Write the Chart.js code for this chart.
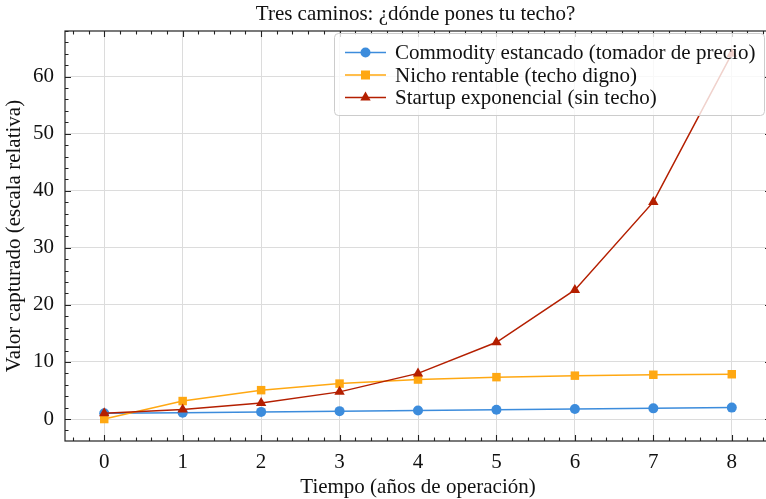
<!DOCTYPE html>
<html>
<head>
<meta charset="utf-8">
<script src="https://cdn.jsdelivr.net/npm/chart.js@4"></script>
<style>
  html, body { margin: 0; padding: 0; background: #fff; overflow: hidden; }
  #wrap { width: 777px; height: 499px; }
</style>
</head>
<body>
<div id="wrap"><canvas id="chart" width="777" height="499"></canvas></div>
<script>
// Data
const years = [0, 1, 2, 3, 4, 5, 6, 7, 8];
const commodity = [1.0, 1.12, 1.25, 1.38, 1.5, 1.62, 1.75, 1.87, 2.0];
const nicho = [0.0, 3.15, 5.06, 6.21, 6.92, 7.34, 7.6, 7.76, 7.85];
const startup = [1.0, 1.68, 2.83, 4.76, 8.0, 13.45, 22.63, 38.05, 64.0];
const xTicks = [0, 1, 2, 3, 4, 5, 6, 7, 8];
const yTicks = [0, 10, 20, 30, 40, 50, 60];

const seriesNames = [
    'Commodity estancado (tomador de precio)',
    'Nicho rentable (techo digno)',
    'Startup exponencial (sin techo)'
];
const chartTitle = 'Tres caminos: ¿dónde pones tu techo?';

const FONT = "'Liberation Serif', 'DejaVu Serif', serif";
const BLUE = '#3c8cdc';
const ORANGE = '#ffa812';
const RED = '#b41f00';

function toXY(values) {
    return values.map((v, i) => ({ x: years[i], y: v }));
}

// inward ticks on all four sides, frame, title and legend
const framePlugin = {
    id: 'frame',
    afterDatasetsDraw(chart) {
        const { ctx, chartArea: a, scales } = chart;
        const xs = scales.x, ys = scales.y;
        ctx.save();
        ctx.strokeStyle = '#222';
        ctx.lineWidth = 1.1;
        ctx.beginPath();
        // x ticks (major + minor every 0.2)
        for (let k = Math.ceil(xs.min * 5); k <= Math.floor(xs.max * 5); k++) {
            const v = k / 5;
            const len = (k % 5 === 0) ? 6 : 3.5;
            const px = Math.round(xs.getPixelForValue(v)) + 0.5;
            ctx.moveTo(px, a.bottom); ctx.lineTo(px, a.bottom - len);
            ctx.moveTo(px, a.top); ctx.lineTo(px, a.top + len);
        }
        // y ticks (major every 10, minor every 2)
        for (let k = Math.ceil(ys.min / 2); k <= Math.floor(ys.max / 2); k++) {
            const v = k * 2;
            const len = (v % 10 === 0) ? 6 : 3.5;
            const py = Math.round(ys.getPixelForValue(v)) + 0.5;
            ctx.moveTo(a.left, py); ctx.lineTo(a.left + len, py);
            ctx.moveTo(a.right, py); ctx.lineTo(a.right - len, py);
        }
        ctx.stroke();
        ctx.lineWidth = 1.2;
        ctx.strokeRect(a.left, a.top, a.right - a.left, a.bottom - a.top);

        // legend
        const lx = 334, ly = 33, lw = 430, lh = 82;
        ctx.beginPath();
        ctx.roundRect(lx + 0.5, ly + 0.5, lw, lh, 4);
        ctx.fillStyle = 'rgba(255,255,255,0.8)';
        ctx.fill();
        ctx.strokeStyle = '#cccccc';
        ctx.lineWidth = 1;
        ctx.stroke();
        ctx.font = '21px ' + FONT;
        ctx.textBaseline = 'middle';
        ctx.textAlign = 'left';
        chart.data.datasets.forEach((ds, i) => {
            const y = 52.5 + i * 22.5;
            ctx.strokeStyle = ds.borderColor;
            ctx.lineWidth = 1.5;
            ctx.beginPath();
            ctx.moveTo(345, y); ctx.lineTo(386, y);
            ctx.stroke();
            ctx.fillStyle = ds.backgroundColor;
            ctx.beginPath();
            if (ds.pointStyle === 'circle') {
                ctx.arc(365.5, y, 5, 0, Math.PI * 2);
            } else if (ds.pointStyle === 'rect') {
                ctx.rect(361, y - 4.5, 9, 9);
            } else {
                ctx.moveTo(365.5, y - 6); ctx.lineTo(370.7, y + 3); ctx.lineTo(360.3, y + 3);
                ctx.closePath();
            }
            ctx.fill();
            ctx.fillStyle = '#111';
            ctx.fillText(ds.label, 395, y + 1);
        });

        // title
        ctx.font = '21px ' + FONT;
        ctx.fillStyle = '#111';
        ctx.textAlign = 'center';
        ctx.fillText(chartTitle, (a.left + 766) / 2, 14);
        ctx.restore();
    }
};

const ctx = document.getElementById('chart').getContext('2d');
const chart = new Chart(ctx, {
    type: 'line',
    data: {
        datasets: [
            {
                label: seriesNames[0],
                data: toXY(commodity),
                borderColor: BLUE,
                backgroundColor: BLUE,
                pointStyle: 'circle',
                pointRadius: 5,
                order: 3
            },
            {
                label: seriesNames[1],
                data: toXY(nicho),
                borderColor: ORANGE,
                backgroundColor: ORANGE,
                pointStyle: 'rect',
                pointRadius: 6,
                order: 2
            },
            {
                label: seriesNames[2],
                data: toXY(startup),
                borderColor: RED,
                backgroundColor: RED,
                pointStyle: 'triangle',
                pointRadius: 6,
                order: 1
            }
        ]
    },
    options: {
        responsive: false,
        animation: false,
        layout: { padding: { top: 31, right: 2, left: 0, bottom: 0 } },
        elements: {
            line: { borderWidth: 1.5, tension: 0 },
            point: { borderWidth: 0, hoverRadius: 6 }
        },
        plugins: {
            legend: { display: false },
            title: { display: false },
            tooltip: { enabled: false }
        },
        scales: {
            x: {
                type: 'linear',
                min: -0.5,
                max: 8.5,
                afterBuildTicks: s => { s.ticks = xTicks.map(v => ({ value: v })); },
                afterFit: s => { s.height = 58; },
                grid: { color: '#dcdcdc', lineWidth: 1, drawTicks: false },
                border: { display: false },
                ticks: {
                    padding: 9,
                    color: '#111',
                    font: { family: FONT, size: 21 },
                    callback: v => String(v)
                },
                title: {
                    display: true,
                    text: 'Tiempo (años de operación)',
                    color: '#111',
                    font: { family: FONT, size: 21 },
                    padding: { top: 0, bottom: -1 }
                }
            },
            y: {
                type: 'linear',
                min: -3.85,
                max: 68,
                afterBuildTicks: s => { s.ticks = yTicks.map(v => ({ value: v })); },
                afterFit: s => { s.width = 65; },
                grid: { color: '#dcdcdc', lineWidth: 1, drawTicks: false },
                border: { display: false },
                ticks: {
                    padding: 11,
                    color: '#111',
                    font: { family: FONT, size: 21 },
                    callback: v => String(v)
                },
                title: {
                    display: true,
                    text: 'Valor capturado (escala relativa)',
                    color: '#111',
                    font: { family: FONT, size: 21 },
                    padding: { top: 2, bottom: 0 }
                }
            }
        }
    },
    plugins: [framePlugin]
});
</script>
</body>
</html>
